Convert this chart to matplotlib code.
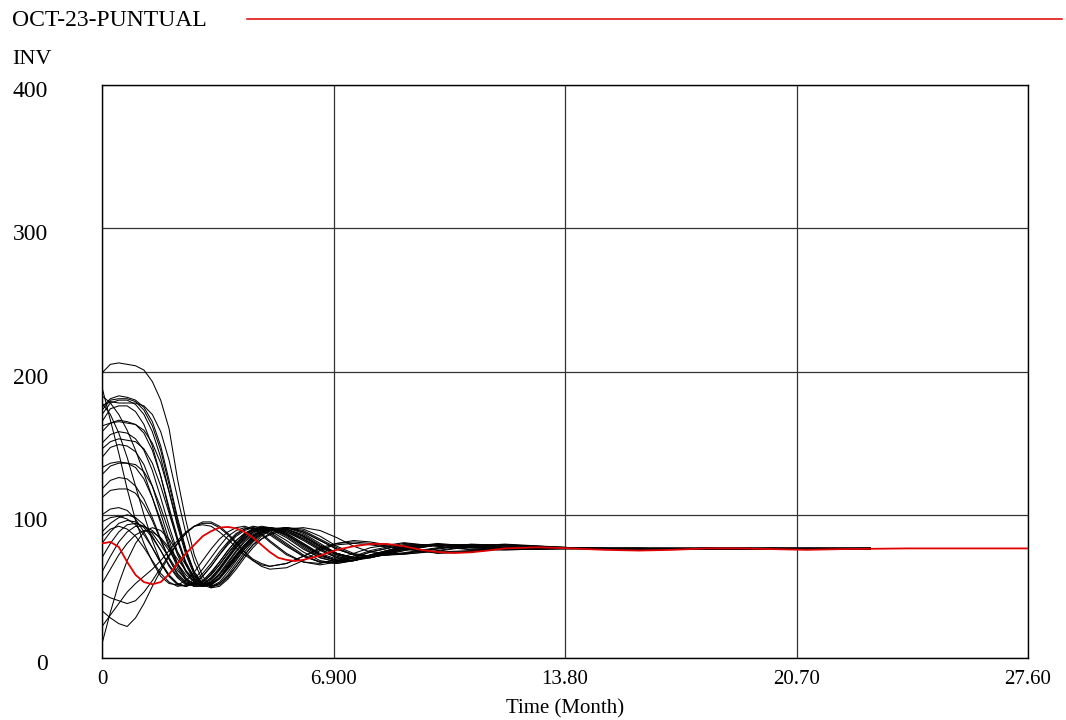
import matplotlib
matplotlib.use("Agg")
import matplotlib.pyplot as plt
import matplotlib.transforms as mtransforms
from matplotlib.lines import Line2D

# ---- data -------------------------------------------------------------
series_name = "OCT-23-PUNTUAL"
variable_name = "INV"
x_label = "Time (Month)"

x_ticks = [0, 6.9, 13.8, 20.7, 27.6]
x_tick_labels = ["0", "6.900", "13.80", "20.70", "27.60"]
y_ticks = [0, 100, 200, 300, 400]
y_tick_labels = ["0", "100", "200", "300", "400"]

# main run (red)
t_main = [0, 0.25, 0.5, 0.75, 1.0, 1.25, 1.5, 1.75, 2.0, 2.25, 2.5, 2.75, 3.0,
          3.25, 3.5, 3.75, 4.0, 4.25, 4.5, 4.75, 5.0, 5.25, 5.5, 5.75, 6.0,
          6.5, 7.0, 7.5, 8.0, 8.5, 9.0, 9.5, 10.0, 10.5, 11.0, 11.5, 12.0,
          13.0, 14.0, 15.0, 16.0, 17.0, 18.0, 19.0, 20.0, 21.0, 22.0, 24.0, 27.6]
inv_main = [80, 81, 77.5, 67, 58, 53, 51.5, 53, 58.5, 66, 73, 79, 85,
            88.5, 91, 91.5, 90.5, 88, 84, 79, 74, 70, 68.5, 67.7, 68.5,
            71.5, 75.5, 78, 79.6, 79.6, 78, 75.5, 74, 73.3, 73.8, 75, 76.5,
            77.3, 76.5, 75.5, 75, 75.5, 76.5, 76.5, 76, 75.5, 76, 76.5, 76.5]

# sensitivity runs (black), shared time grid
t_runs = [0, 0.25, 0.5, 0.75, 1.0, 1.25, 1.5, 1.75, 2.0, 2.25, 2.5, 2.75, 3.0,
          3.25, 3.5, 3.75, 4.0, 4.25, 4.5, 4.75, 5.0, 5.5, 6.0, 6.5, 7.0, 7.5,
          8.0, 9.0, 10.0, 11.0, 12.0, 14.0, 16.0, 18.0, 20.0, 22.9]

run_01 = [199, 205, 206, 205, 204, 201, 193, 180, 160, 125, 96, 72, 57, 50, 51, 56, 64, 72, 79, 83, 86, 90, 91, 89, 84, 78, 74, 72.5, 74.5, 78, 79.5, 77, 76, 76.5, 76.5, 76.5]
run_02 = [175, 181, 183, 182, 180, 175, 165, 148, 124, 98, 76, 60, 52, 51, 55, 62, 70, 77, 83, 87, 90, 91, 88, 82, 76, 72, 71, 73, 76, 79, 79, 77, 76, 76.5, 76.5, 76]
run_03 = [170, 178, 180, 180, 177, 170, 158, 140, 116, 92, 72, 58, 51, 51, 56, 64, 72, 79, 85, 89, 91, 90, 86, 79, 73, 70, 71, 76, 79, 78, 77, 76.5, 76.5, 76, 76.5, 76.5]
run_04 = [176, 179, 178, 178, 178, 176, 170, 158, 138, 112, 87, 67, 54, 49, 50, 55, 62, 70, 77, 83, 87, 91, 90, 85, 78, 73, 71, 72.5, 75, 78.5, 79, 77, 76, 76.5, 76, 76.5]
run_05 = [165, 174, 176, 176, 172, 163, 148, 127, 103, 82, 65, 54, 50, 52, 58, 66, 74, 81, 86, 89, 90, 88, 83, 76, 71, 69, 71, 77, 79, 78, 77, 76, 76.5, 76.5, 76.5, 76]
run_06 = [158, 164, 166, 165, 163, 157, 145, 127, 105, 84, 67, 56, 50, 51, 56, 64, 72, 79, 85, 89, 91, 89, 84, 77, 72, 70, 71, 76, 79, 78.5, 77, 76.5, 76, 76.5, 76.5, 76.5]
run_07 = [150, 156, 158, 157, 153, 145, 131, 112, 92, 74, 61, 53, 50, 53, 59, 67, 75, 82, 87, 90, 91, 88, 82, 75, 70, 69, 71, 77, 80, 78, 76, 76.5, 76.5, 76, 76.5, 76.5]
run_08 = [146, 151, 153, 152, 151, 146, 136, 120, 101, 82, 66, 55, 50, 51, 56, 63, 71, 78, 84, 88, 90, 90, 85, 78, 73, 70, 71, 76, 79, 78.5, 77, 76.5, 76, 76.5, 76, 76.5]
run_09 = [140, 147, 149, 148, 144, 135, 120, 101, 82, 66, 56, 51, 51, 55, 62, 70, 78, 84, 88, 90, 90, 86, 79, 72, 68, 68, 71, 77, 79.5, 77.5, 76, 76.5, 76.5, 76.5, 76, 76]
run_10 = [128, 134, 136, 136, 133, 125, 112, 96, 79, 65, 55, 50, 50, 54, 61, 69, 77, 83, 88, 90, 91, 87, 80, 73, 69, 68, 71, 77, 79, 78, 77, 76.5, 76, 76.5, 76.5, 76.5]
run_11 = [118, 124, 126, 125, 120, 111, 98, 83, 69, 58, 52, 50, 53, 59, 67, 75, 82, 87, 90, 91, 90, 84, 76, 70, 67, 68, 72, 78, 79, 77.5, 76.5, 76.5, 76.5, 76, 76.5, 76]
run_12 = [112, 117, 118, 118, 115, 107, 96, 82, 69, 59, 53, 51, 53, 58, 65, 73, 80, 86, 89, 91, 91, 86, 78, 71, 68, 68, 71, 77, 79, 78, 76.5, 76.5, 76.5, 76.5, 76, 76.5]
run_13 = [100, 104, 105, 103, 97, 88, 77, 66, 57, 52, 50, 52, 57, 64, 72, 80, 86, 90, 92, 91, 88, 80, 72, 67, 66, 68, 72, 78, 79, 77, 76, 76.5, 76.5, 76.5, 76.5, 76.5]
run_14 = [189, 166, 143, 118, 96, 80, 67, 57, 52, 51, 54, 60, 68, 76, 83, 88, 91, 92, 90, 86, 81, 72, 67, 66, 69, 73, 77, 80.5, 78, 75.5, 75.5, 76.5, 76.5, 76.5, 76.5, 76.5]
run_15 = [183, 178, 170, 159, 145, 129, 112, 94, 77, 63, 54, 50, 51, 56, 63, 71, 79, 85, 89, 91, 91, 86, 79, 72, 68, 68, 71, 77, 79, 78, 76.5, 76.5, 76, 76.5, 76.5, 76]
run_16 = [178, 170, 157, 140, 120, 100, 82, 67, 57, 51, 50, 53, 59, 66, 74, 81, 87, 90, 91, 89, 86, 78, 71, 67, 67, 70, 74, 79, 79, 77, 76, 76.5, 76.5, 76.5, 76, 76.5]
run_17 = [95, 98, 99, 97, 93, 86, 77, 67, 58, 52, 50, 52, 57, 64, 72, 79, 85, 89, 91, 90, 87, 79, 71, 67, 67, 70, 74, 79, 79, 77, 76, 76.5, 76.5, 76.5, 76.5, 76.5]
run_18 = [88, 94, 98, 100, 98, 93, 85, 75, 64, 56, 51, 51, 54, 60, 67, 75, 82, 87, 90, 91, 89, 82, 74, 68, 66, 68, 72, 78, 79, 77.5, 76.5, 76.5, 76.5, 76, 76.5, 76.5]
run_19 = [80, 88, 94, 96, 95, 91, 84, 75, 65, 57, 52, 51, 53, 58, 65, 73, 80, 86, 90, 92, 91, 85, 77, 70, 67, 68, 71, 77, 79, 78, 76.5, 76.5, 76, 76.5, 76.5, 76]
run_20 = [70, 80, 88, 93, 94, 92, 87, 79, 70, 61, 55, 52, 52, 56, 62, 70, 77, 84, 88, 91, 91, 87, 80, 72, 68, 68, 71, 77, 79, 78, 76.5, 76.5, 76.5, 76.5, 76, 76.5]
run_21 = [60, 71, 81, 88, 92, 92, 89, 83, 75, 66, 58, 53, 51, 53, 58, 65, 72, 79, 85, 89, 91, 89, 83, 76, 70, 68, 70, 76, 79, 78.5, 77, 76.5, 76, 76.5, 76.5, 76.5]
run_22 = [52, 62, 72, 80, 86, 89, 88, 84, 77, 69, 61, 55, 52, 52, 56, 62, 69, 76, 82, 87, 90, 90, 85, 78, 72, 69, 70, 75, 79, 79, 77, 76.5, 76.5, 76, 76.5, 76.5]
run_23 = [45, 42, 40, 38, 40, 46, 54, 63, 72, 80, 87, 92, 94, 94, 91, 86, 80, 74, 69, 66, 64, 66, 71, 77, 80, 81, 80, 76, 73.5, 74.5, 76.5, 76.5, 76.5, 76.5, 76.5, 76.5]
run_24 = [33, 28, 24, 22, 28, 38, 50, 61, 71, 80, 87, 92, 95, 95, 92, 87, 81, 74, 68, 64, 62, 63, 68, 75, 80, 82, 81, 77, 73, 74, 76.5, 76.5, 76.5, 76.5, 76, 76.5]
run_25 = [10, 32, 52, 68, 80, 88, 91, 89, 83, 74, 65, 57, 52, 50, 52, 57, 64, 72, 79, 85, 89, 91, 87, 80, 73, 70, 70, 75, 79, 79, 77.5, 76.5, 76, 76.5, 76.5, 76.5]
run_26 = [22, 30, 38, 46, 52, 57, 62, 68, 75, 82, 88, 92, 93, 92, 88, 83, 77, 72, 68, 65, 64, 66, 71, 76, 79, 80, 79, 76, 74, 75, 77, 76.5, 76.5, 76.5, 76.5, 76]
run_27 = [85, 90, 92, 90, 85, 77, 68, 59, 53, 50, 51, 55, 62, 70, 78, 85, 89, 91, 90, 87, 82, 73, 67, 65, 67, 71, 75, 80, 78, 76, 75.5, 76.5, 76.5, 76.5, 76.5, 76.5]
run_28 = [173, 180, 181, 181, 179, 173, 162, 145, 121, 96, 75, 60, 52, 50, 53, 60, 68, 76, 82, 87, 90, 91, 88, 82, 76, 72, 71, 73, 76.5, 79.5, 78.5, 76.5, 76.5, 76, 76.5, 76.5]
run_29 = [162, 164, 165, 164, 163, 159, 150, 136, 116, 94, 74, 59, 51, 49, 52, 58, 66, 74, 81, 86, 89, 91, 89, 83, 77, 72, 71, 73.5, 77, 79, 78, 76.5, 76, 76.5, 76.5, 76.5]
run_30 = [133, 136, 137, 136, 135, 130, 120, 105, 88, 72, 60, 53, 50, 51, 56, 63, 71, 78, 84, 88, 90, 90, 85, 78, 73, 70, 71, 76, 79, 78.5, 77, 76.5, 76.5, 76.5, 76, 76.5]

sensitivity_runs = [run_01, run_02, run_03, run_04, run_05, run_06, run_07, run_08,
                    run_09, run_10, run_11, run_12, run_13, run_14, run_15, run_16,
                    run_17, run_18, run_19, run_20, run_21, run_22, run_23, run_24,
                    run_25, run_26, run_27, run_28, run_29, run_30]

# ---- figure -----------------------------------------------------------
plt.rcParams["font.family"] = ["Liberation Serif", "DejaVu Serif"]
FS = 15
FS_BIG = 17

fig = plt.figure(figsize=(10.66, 7.2), dpi=100)
ax = fig.add_axes([102 / 1066, 1 - 658 / 720, (1028 - 102) / 1066, (658 - 85) / 720])

for run in sensitivity_runs:
    ax.plot(t_runs, run, color="black", lw=0.75, solid_joinstyle="round", zorder=2)
ax.plot(t_main, inv_main, color="#e00000", lw=1.3, zorder=3)

ax.set_xlim(0, 27.6)
ax.set_ylim(0, 400)
ax.set_xticks(x_ticks)
ax.set_xticklabels(x_tick_labels, fontsize=FS)
ax.set_yticks(y_ticks)
ax.set_yticklabels(y_tick_labels, fontsize=FS_BIG)
ax.tick_params(length=0)
ax.tick_params(axis="x", pad=9)
ax.tick_params(axis="y", pad=39)

# value labels sit a few pixels below their grid lines
shift_down = mtransforms.ScaledTranslation(0, -4 / 100, fig.dpi_scale_trans)
for lbl in ax.get_yticklabels():
    lbl.set_transform(lbl.get_transform() + shift_down)

ax.grid(True, color="#333333", lw=0.9, zorder=1)
ax.set_axisbelow(True)
for sp in ax.spines.values():
    sp.set_color("black")
    sp.set_linewidth(1.0)
ax.set_xlabel(x_label, fontsize=FS, labelpad=7)

# header: series name with its line sample, then the variable name
fig.text(12 / 1066, 1 - 21 / 720, series_name, fontsize=FS_BIG, va="center", ha="left")
fig.add_artist(Line2D([247 / 1066, 1062 / 1066], [1 - 19 / 720, 1 - 19 / 720],
                      color="#e00000", lw=1.1, transform=fig.transFigure))
fig.text(12 / 1066, 1 - 59 / 720, variable_name, fontsize=16, va="center", ha="left")

fig.savefig("out.png", dpi=100)
